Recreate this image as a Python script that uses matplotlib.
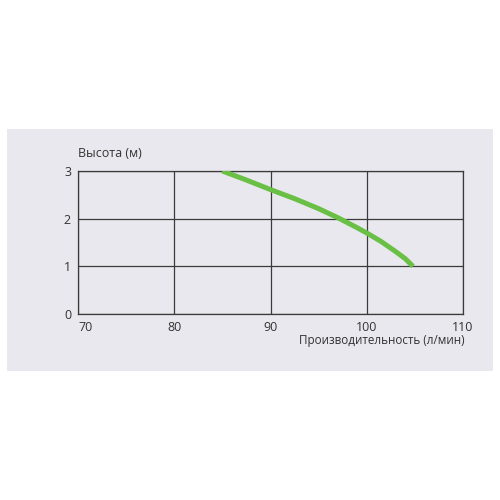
import numpy as np
import matplotlib
matplotlib.use('Agg')
import matplotlib.pyplot as plt
from matplotlib.patches import Rectangle

# flow (l/min) vs head (m)
flow = [85, 87.5, 90, 92.5, 95, 97, 99, 100, 101.5, 103, 104, 104.8]
head = [3.0, 2.81, 2.61, 2.42, 2.21, 2.02, 1.81, 1.70, 1.52, 1.31, 1.16, 1.0]
x_ticks = [70, 80, 90, 100, 110]
y_ticks = [0, 1, 2, 3]

plt.rcParams['font.family'] = ['Open Sans', 'DejaVu Sans']
text_col = '#333333'
grid_col = '#3a3a3a'

fig = plt.figure(figsize=(5, 5), dpi=100)
fig.patch.set_facecolor('white')

# grey panel behind the chart
fig.patches.append(Rectangle((0.014, 0.258), 0.972, 0.484, transform=fig.transFigure,
                             facecolor='#e8e8ee', edgecolor='none', zorder=-5))

ax = fig.add_axes([0.156, 0.372, 0.77, 0.286])
ax.set_zorder(2)
ax.set_facecolor('none')
ax.plot(flow, head, color='#6abf45', linewidth=3.6, solid_capstyle='butt',
        solid_joinstyle='round', zorder=3)

ax.set_xlim(70, 110)
ax.set_ylim(0, 3)
ax.set_xticks(x_ticks)
ax.set_yticks(y_ticks)
ax.grid(True, color=grid_col, linewidth=0.9)
for s in ax.spines.values():
    s.set_color(grid_col)
    s.set_linewidth(0.9)
ax.tick_params(length=0, labelsize=9, colors=text_col, pad=5)
ax.get_xticklabels()[0].set_horizontalalignment('left')

ax.text(0.0, 1.08, 'Высота (м)', transform=ax.transAxes, fontsize=9,
        color=text_col, ha='left', va='bottom')
ax.text(1.005, -0.14, 'Производительность (л/мин)', transform=ax.transAxes,
        fontsize=8.4, color=text_col, ha='right', va='top')

fig.savefig('out.png', dpi=100)
